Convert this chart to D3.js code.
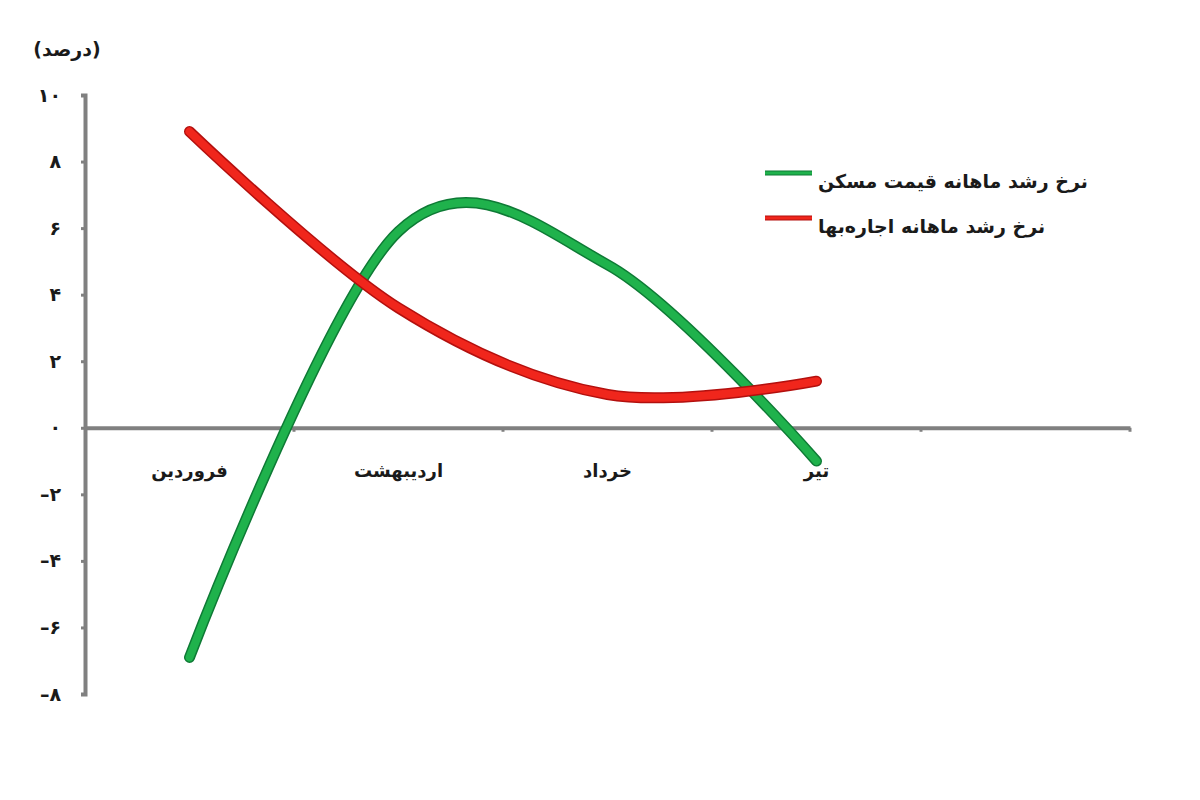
<!DOCTYPE html>
<html>
<head>
<meta charset="utf-8">
<script src="https://cdn.jsdelivr.net/npm/d3@7"></script>
<style>
  body { margin: 0; background: #fff; }
  svg text { font-family: "DejaVu Sans", sans-serif; font-weight: bold; fill: #1a1a1a; }
</style>
</head>
<body>
<div id="chart"></div>
<script>
// months (last slot is an empty category, as in the original sheet)
const months = ["فروردین", "اردیبهشت", "خرداد", "تیر", ""];
// monthly growth of housing price (%)
const housePrice = [-6.9, 5.9, 4.9, -1.0];
// monthly growth of rents (%)
const rentPrice = [8.9, 3.6, 1.0, 1.4];
const yTicks = [-8, -6, -4, -2, 0, 2, 4, 6, 8, 10];
const seriesNames = ["نرخ رشد ماهانه قیمت مسکن", "نرخ رشد ماهانه اجاره‌بها"];

const width = 1200, height = 800;
const toFa = (n) => String(n).replace(/\d/g, (c) => "۰۱۲۳۴۵۶۷۸۹"[c]);

const svg = d3.select("#chart").append("svg")
  .attr("width", width)
  .attr("height", height);

const x = d3.scaleBand().domain(months).range([85, 1130]);
const y = d3.scaleLinear().domain([-8, 10]).range([694, 95]);
const axisColor = "#808080";

// y axis
const yAxis = svg.append("g")
  .attr("transform", "translate(85,0)")
  .call(d3.axisLeft(y).tickValues(yTicks).tickSize(4).tickPadding(20)
    .tickFormat((d) => (d < 0 ? "–" + toFa(-d) : toFa(d))));
yAxis.select(".domain").attr("stroke", axisColor).attr("stroke-width", 4);
yAxis.selectAll(".tick line").attr("stroke", axisColor).attr("stroke-width", 3);
yAxis.selectAll(".tick text")
  .attr("font-size", 19)
  .attr("direction", "ltr")
  .attr("fill", "#1a1a1a");

// x axis at zero
const xAxis = svg.append("g")
  .attr("transform", `translate(0,${y(0)})`)
  .call(d3.axisBottom(x).tickSize(0).tickFormat(""));
xAxis.select(".domain").attr("stroke", axisColor).attr("stroke-width", 4);

// boundary ticks between categories
xAxis.selectAll(".bound")
  .data(months.map((m) => x(m) + x.bandwidth()))
  .join("line")
  .attr("class", "bound")
  .attr("x1", (d) => d).attr("x2", (d) => d)
  .attr("y1", 0).attr("y2", 4)
  .attr("stroke", axisColor)
  .attr("stroke-width", 3);

// month labels
svg.append("g").selectAll("text")
  .data(months.filter((m) => m))
  .join("text")
  .attr("x", (d) => x(d) + x.bandwidth() / 2)
  .attr("y", 471)
  .attr("dy", "0.35em")
  .attr("text-anchor", "middle")
  .attr("font-size", 18)
  .text((d) => d);

// unit label
svg.append("text")
  .attr("x", 67).attr("y", 49)
  .attr("dy", "0.35em")
  .attr("text-anchor", "middle")
  .attr("font-size", 19)
  .text("(درصد)");

// lines
const line = d3.line()
  .x((d, i) => x(months[i]) + x.bandwidth() / 2)
  .y((d) => y(d))
  .curve(d3.curveCardinal.tension(0));

const series = [
  { values: housePrice, dark: "#0e7a35", light: "#1fb24c" },
  { values: rentPrice, dark: "#b3100e", light: "#f0261c" }
];

series.forEach((s) => {
  svg.append("path")
    .attr("d", line(s.values))
    .attr("fill", "none")
    .attr("stroke", s.dark)
    .attr("stroke-width", 11)
    .attr("stroke-linecap", "round")
    .attr("stroke-linejoin", "round");
  svg.append("path")
    .attr("d", line(s.values))
    .attr("fill", "none")
    .attr("stroke", s.light)
    .attr("stroke-width", 8)
    .attr("stroke-linecap", "round")
    .attr("stroke-linejoin", "round");
});

// legend
const legend = svg.append("g").selectAll("g")
  .data(series)
  .join("g")
  .attr("transform", (d, i) => `translate(765,${173 + i * 45})`);

legend.append("line")
  .attr("x1", 0).attr("x2", 47)
  .attr("stroke", (d) => d.dark)
  .attr("stroke-width", 5);
legend.append("line")
  .attr("x1", 0).attr("x2", 47)
  .attr("stroke", (d) => d.light)
  .attr("stroke-width", 3);

legend.append("text")
  .attr("x", 53)
  .attr("y", 8)
  .attr("dy", "0.35em")
  .attr("font-size", 19)
  .text((d, i) => seriesNames[i]);
</script>
</body>
</html>
